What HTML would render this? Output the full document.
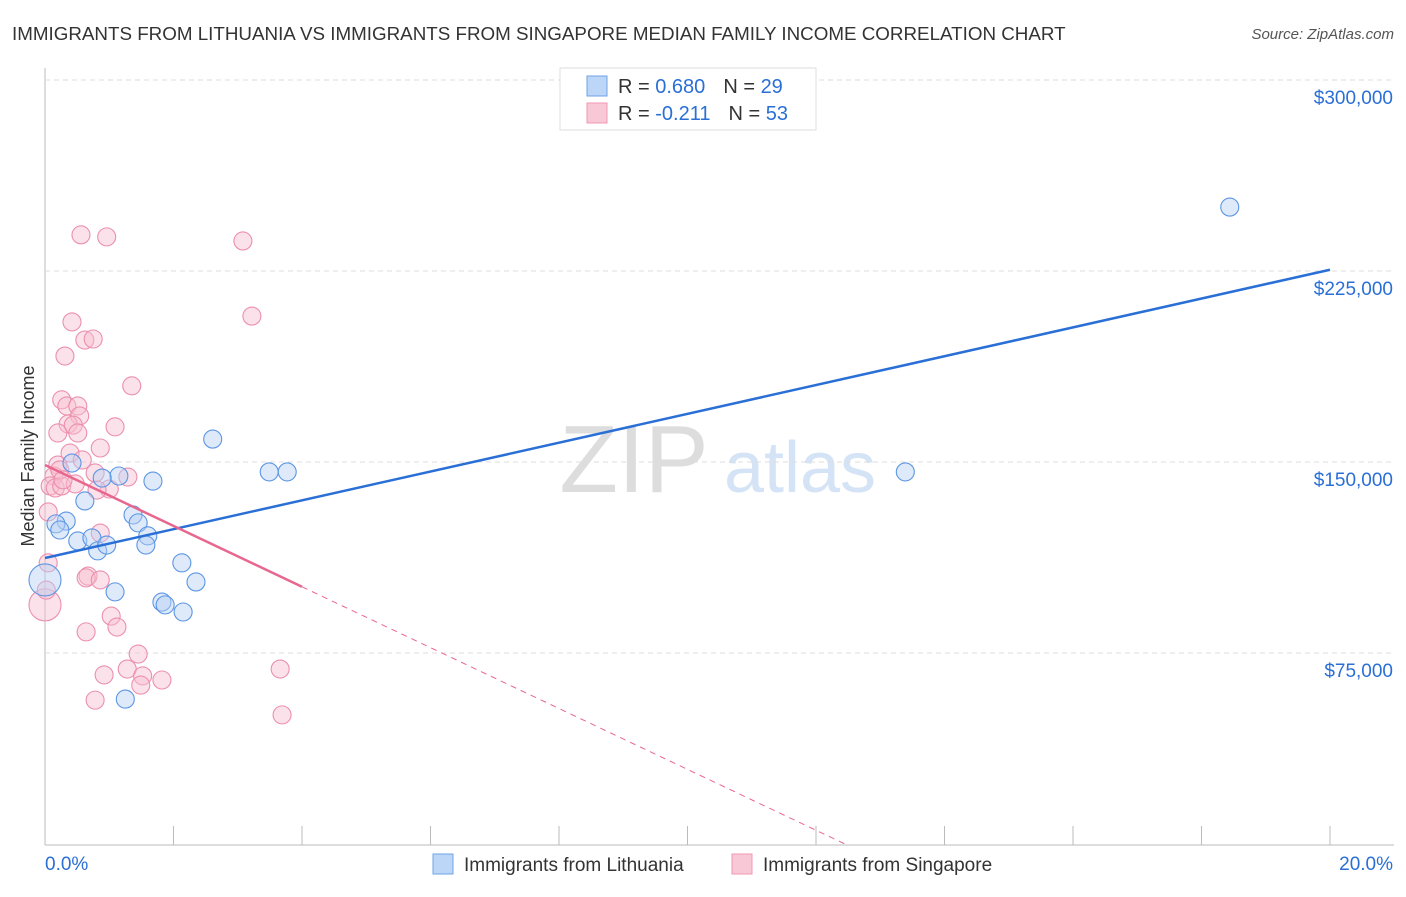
<!DOCTYPE html>
<html><head><meta charset="utf-8"><style>
body{margin:0;background:#fff;font-family:"Liberation Sans",sans-serif}
svg text{font-family:"Liberation Sans",sans-serif}
</style></head><body>
<svg id="c" width="1406" height="892">
<text x="12" y="40" font-size="18.8" fill="#333">IMMIGRANTS FROM LITHUANIA VS IMMIGRANTS FROM SINGAPORE MEDIAN FAMILY INCOME CORRELATION CHART</text>
<text x="1394" y="39" font-size="15" fill="#555" text-anchor="end" font-style="italic">Source: ZipAtlas.com</text>
<text x="634" y="492" font-size="96" fill="#ddd" font-family="Liberation Serif" text-anchor="middle">ZIP</text>
<text x="800" y="492" font-size="72" fill="#d4e3f5" text-anchor="middle">atlas</text>
<text transform="translate(34,456) rotate(-90)" font-size="18" fill="#333" text-anchor="middle">Median Family Income</text>
<g id="grid"></g><g id="pts"></g><g id="lines"></g>
<g>
<rect x="560" y="68" width="256" height="62" fill="#fff" stroke="#ddd"/>
<rect x="587" y="76" width="20" height="20" fill="#bcd6f7" stroke="#6fa3e6"/>
<rect x="587" y="103" width="20" height="20" fill="#f9c8d6" stroke="#ef97b2"/>
<text x="618" y="93" font-size="20" fill="#333">R = <tspan fill="#2a6fd6">0.680</tspan><tspan dx="18">N = </tspan><tspan fill="#2a6fd6">29</tspan></text>
<text x="618" y="120" font-size="20" fill="#333">R = <tspan fill="#2a6fd6">-0.211</tspan><tspan dx="18">N = </tspan><tspan fill="#2a6fd6">53</tspan></text>
</g>
<g>
<rect x="433" y="854" width="20" height="20" fill="#bcd6f7" stroke="#6fa3e6"/>
<text x="464" y="871" font-size="19" fill="#333">Immigrants from Lithuania</text>
<rect x="732" y="854" width="20" height="20" fill="#f9c8d6" stroke="#ef97b2"/>
<text x="763" y="871" font-size="19" fill="#333">Immigrants from Singapore</text>
</g>
</svg>
<script>
const yTicks=[75000,150000,225000,300000];
const yTickLabels=["$75,000","$150,000","$225,000","$300,000"];
const xTickLabels=["0.0%","20.0%"];
const blueX=[18.44,13.39,2.61,3.49,3.77,1.68,1.15,0.89,0.42,0.62,0.33,0.17,0.23,0.51,0.73,0.82,0.96,1.37,1.45,1.60,1.57,2.13,2.35,1.09,1.82,1.87,2.15,1.25,0];
const blueY=[250.1,146.1,159.0,146.1,146.1,142.5,144.5,143.7,149.6,134.7,126.8,125.7,123.3,119.0,120.2,115.1,117.4,129.2,126.1,121.0,117.4,110.4,102.9,99.0,95.0,93.9,91.1,56.9,103.7];
const pinkX=[0.56,0.96,3.08,3.22,0.42,0.62,0.75,0.31,1.35,0.26,0.34,0.51,0.54,0.36,0.44,0.20,0.51,1.09,0.86,0.39,0.58,0.20,0.14,0.08,0.16,0.26,0.47,0.78,1.29,1.00,0.81,0.05,0.86,0.05,0.67,0.64,0.86,0,1.03,1.12,0.64,1.45,1.28,0.92,1.52,1.49,1.82,3.66,0.78,3.69,0.02,0.23,0.28];
const pinkY=[239.2,238.4,236.8,207.3,205.0,197.9,198.3,191.6,179.9,174.4,172.0,172.0,168.1,164.9,164.5,161.4,161.4,163.8,155.5,153.5,150.8,148.8,144.5,140.6,139.8,140.6,141.4,145.7,144.1,139.4,139.0,130.4,122.1,110.4,105.2,104.5,103.7,93.9,89.5,85.2,83.3,74.6,68.7,66.4,66.0,62.4,64.4,68.7,56.5,50.7,99.7,146.9,143.0];
const blueFit=[112300,225500];
const pinkFit=[148800,-11950];
const X=v=>45+v/20*1285, Y=v=>844-v/75000*191;
const NS="http://www.w3.org/2000/svg";
function mk(t,a,p){const e=document.createElementNS(NS,t);for(const k in a)e.setAttribute(k,a[k]);document.getElementById(p).appendChild(e);return e;}
let e=mk('line',{x1:45,y1:68,x2:45,y2:845,stroke:'#bbb'},'grid');

e=mk('line',{x1:45,y1:845,x2:1394,y2:845,stroke:'#bbb'},'grid');

yTicks.forEach((t,i)=>{
 let g=mk('line',{x1:45,x2:1394,y1:Y(t),y2:Y(t),stroke:'#ddd','stroke-dasharray':'5,4'},'grid');
 
 let l=mk('text',{x:1393,y:Y(t)+24,'font-size':19,fill:'#2a6fd6','text-anchor':'end'},'grid');l.textContent=yTickLabels[i];
 
});
for(let i=0;i<=10;i++){let t=mk('line',{x1:X(i*2),x2:X(i*2),y1:826,y2:845,stroke:'#bbb'},'grid');
 }
[[0,'start',45],[20,'end',1393]].forEach((d,i)=>{let l=mk('text',{x:d[2],y:870,'font-size':19,fill:'#2a6fd6','text-anchor':d[1]},'grid');l.textContent=xTickLabels[i];
 });
function dots(xs,ys,f,s,n){xs.forEach((x,i)=>{const big=x===0;let c=mk('circle',{cx:X(x),cy:Y(ys[i]*1000),r:big?16:9,fill:f,'fill-opacity':0.45,stroke:s,'stroke-width':1.1},'pts');
 });}
dots(pinkX,pinkY,'#f7bfd0','#ec8fae','singapore-point');
dots(blueX,blueY,'#b5d1f5','#5b95e3','lithuania-point');
e=mk('line',{x1:X(0),y1:Y(blueFit[0]),x2:X(20),y2:Y(blueFit[1]),stroke:'#2a6fd6','stroke-width':2.5},'lines');

const pe=4,pz=-pinkFit[0]/pinkFit[1];
e=mk('line',{x1:X(0),y1:Y(pinkFit[0]),x2:X(pe),y2:Y(pinkFit[0]+pinkFit[1]*pe),stroke:'#e8678f','stroke-width':2.5},'lines');

e=mk('line',{x1:X(pe),y1:Y(pinkFit[0]+pinkFit[1]*pe),x2:X(pz),y2:Y(0),stroke:'#e8678f','stroke-width':1,'stroke-dasharray':'6,5'},'lines');

</script>
</body></html>
